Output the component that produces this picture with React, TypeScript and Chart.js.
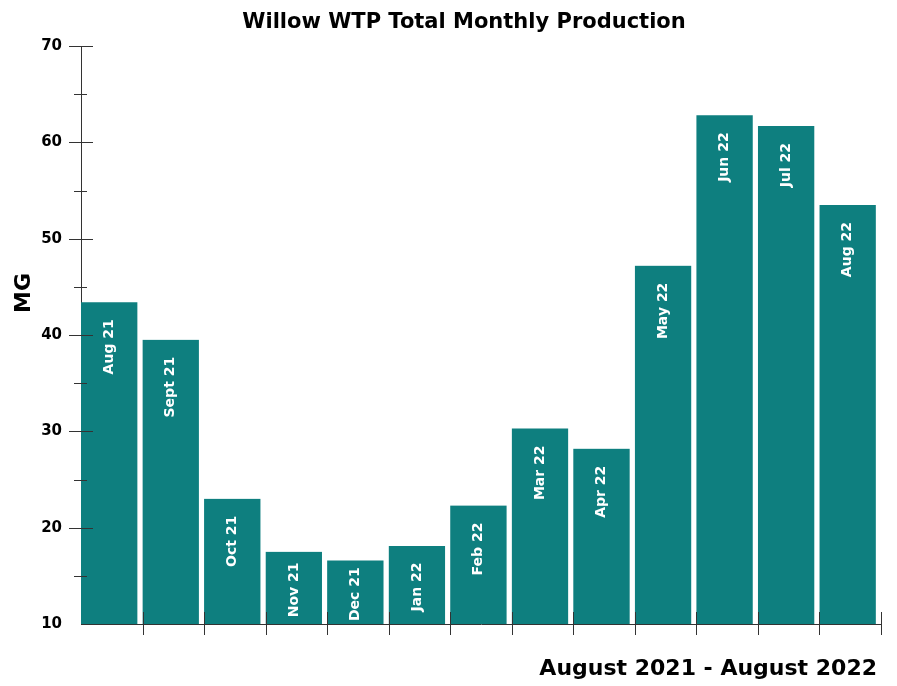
import React, { useEffect, useRef } from "react";
import { Chart, registerables } from "chart.js";

Chart.register(...registerables);

const months = ["Aug 21", "Sept 21", "Oct 21", "Nov 21", "Dec 21", "Jan 22", "Feb 22", "Mar 22", "Apr 22", "May 22", "Jun 22", "Jul 22", "Aug 22"];
const production = [43.4, 39.5, 23.0, 17.5, 16.6, 18.1, 22.3, 30.3, 28.2, 47.2, 62.8, 61.7, 53.5];
const chartTitle = "Willow WTP Total Monthly Production";
const yTitle = "MG";
const xTitle = "August 2021 - August 2022";
const yMin = 10;
const yMax = 70;
const yStep = 10;

const FONT = '"DejaVu Sans", "Liberation Sans", Arial, sans-serif';
const TEAL = "#0e7f7f";

const decor = {
  id: "decor",
  afterDatasetsDraw(chart: any) {
    const ctx = chart.ctx;
    const meta = chart.getDatasetMeta(0);
    const bottom = chart.chartArea.bottom;
    ctx.save();
    ctx.fillStyle = "#ffffff";
    ctx.font = `bold 14px ${FONT}`;
    meta.data.forEach((bar: any, i: number) => {
      const p = bar.getProps(["x", "y"], true);
      const w = ctx.measureText(months[i]).width;
      const h = bottom - p.y;
      const off = Math.min(17, (h - w) / 2 + 2);
      ctx.save();
      ctx.translate(p.x - 2.5, p.y + off);
      ctx.rotate(-Math.PI / 2);
      ctx.textAlign = "right";
      ctx.textBaseline = "middle";
      ctx.fillText(months[i], 0, 0);
      ctx.restore();
    });
    ctx.restore();
  },
  afterDraw(chart: any) {
    const ctx = chart.ctx;
    const ys = chart.scales.y;
    const xs = chart.scales.x;
    const area = chart.chartArea;
    ctx.save();
    ctx.strokeStyle = "#333333";
    ctx.lineWidth = 1;
    for (let v = yMin; v <= yMax; v += yStep / 2) {
      const y = Math.round(ys.getPixelForValue(v)) + 0.5;
      const major = (v - yMin) % yStep === 0;
      if (v === yMin) continue;
      ctx.beginPath();
      ctx.moveTo(area.left - (major ? 12 : 7), y);
      ctx.lineTo(area.left + (major ? 12 : 6), y);
      ctx.stroke();
    }
    for (let i = 1; i <= months.length; i++) {
      const x = Math.round(xs.getPixelForValue(i - 0.5)) + 0.5;
      ctx.beginPath();
      ctx.moveTo(x, area.bottom - 12);
      ctx.lineTo(x, area.bottom + 11);
      ctx.stroke();
    }
    ctx.fillStyle = "#000000";
    ctx.font = `bold 21px ${FONT}`;
    ctx.textAlign = "center";
    ctx.textBaseline = "middle";
    ctx.fillText(chartTitle, 464, 23);

    ctx.font = `bold 22px ${FONT}`;
    ctx.textAlign = "right";
    ctx.fillText(xTitle, 877, 669);

    ctx.save();
    ctx.translate(24, 293);
    ctx.rotate(-Math.PI / 2);
    ctx.textAlign = "center";
    ctx.fillText(yTitle, 0, 0);
    ctx.restore();
    ctx.restore();
  },
};

export default function App() {
  const ref = useRef<HTMLCanvasElement | null>(null);
  useEffect(() => {
    if (!ref.current) return;
    const chart = new Chart(ref.current, {
      type: "bar",
      data: {
        labels: months,
        datasets: [
          {
            data: production,
            backgroundColor: TEAL,
            borderColor: "rgba(0,0,0,0)",
            borderWidth: { top: 0, right: 5.5, bottom: 0, left: 0 },
            borderSkipped: false,
            barPercentage: 1,
            categoryPercentage: 1,
          },
        ],
      },
      options: {
        animation: false,
        responsive: true,
        maintainAspectRatio: false,
        layout: { padding: { top: 46, right: 16, left: 0, bottom: 0 } },
        plugins: {
          legend: { display: false },
          title: { display: false },
          tooltip: { enabled: false },
        },
        scales: {
          x: {
            grid: { display: false },
            border: { display: true, color: "#333333", width: 1 },
            ticks: { display: false },
            afterFit: (s: any) => {
              s.height = 62;
            },
          },
          y: {
            min: yMin,
            max: yMax,
            grid: { display: false, drawTicks: false },
            border: { display: true, color: "#333333", width: 1 },
            ticks: {
              stepSize: yStep,
              color: "#000000",
              padding: 19,
              font: { family: FONT, size: 15, weight: "bold" },
            },
            afterFit: (s: any) => {
              s.width = 81;
            },
          },
        },
      },
      plugins: [decor],
    });
    return () => chart.destroy();
  }, []);
  return (
    <div style={{ position: "absolute", left: 0, top: 0, width: 897, height: 686 }}>
      <canvas ref={ref} />
    </div>
  );
}
